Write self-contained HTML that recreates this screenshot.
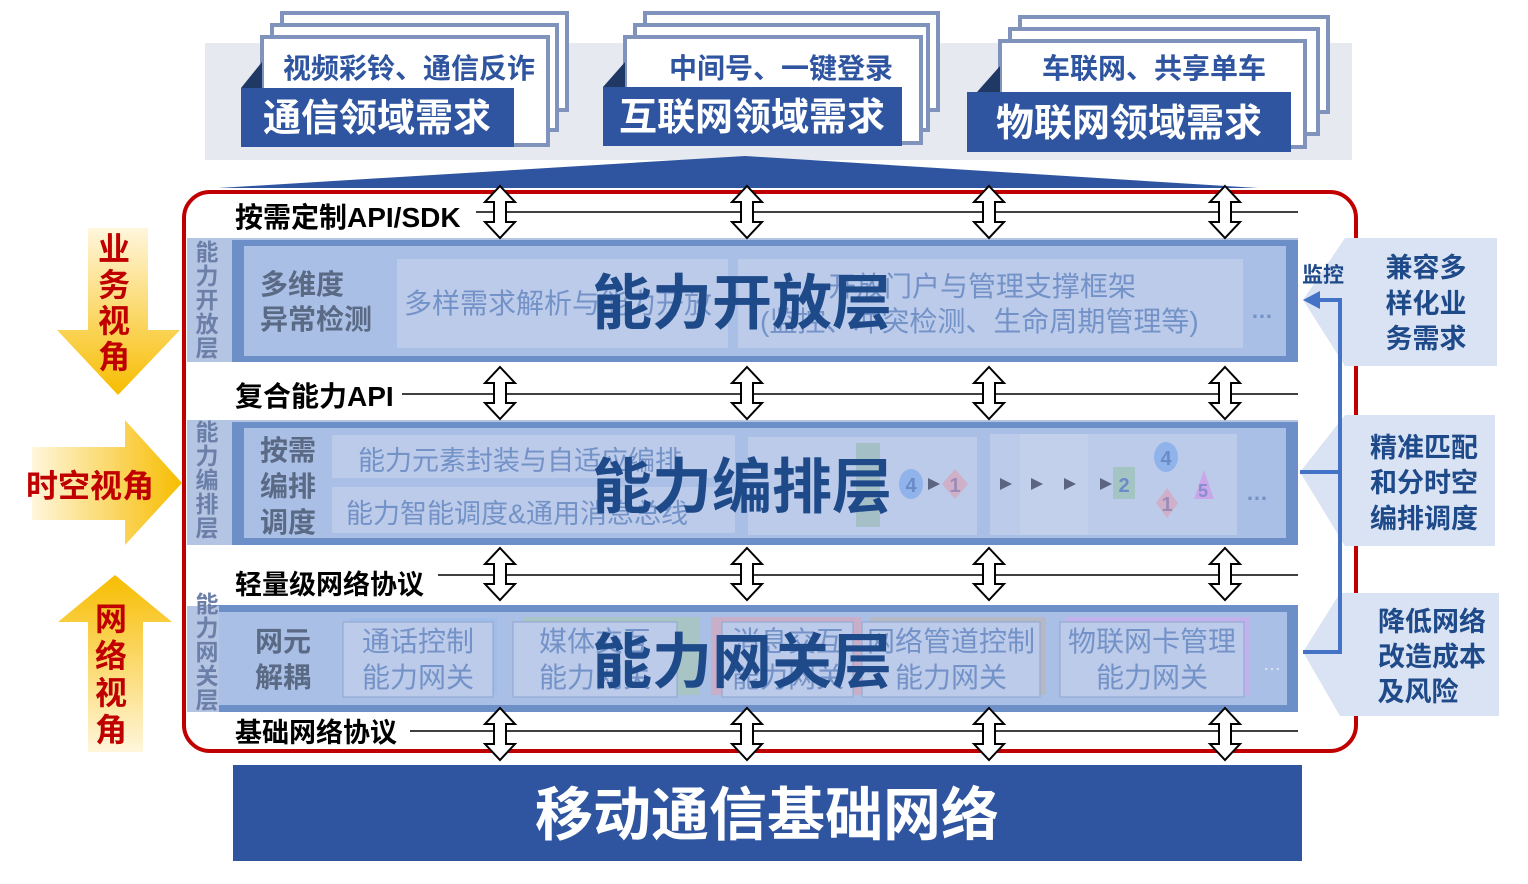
<!DOCTYPE html>
<html><head><meta charset="utf-8"><style>
html,body{margin:0;padding:0;background:#fff;}
svg{display:block;font-family:"Liberation Sans","Noto Sans CJK SC",sans-serif;}
.b{font-weight:bold;}
</style></head><body>
<svg width="1528" height="884" viewBox="0 0 1528 884" xmlns="http://www.w3.org/2000/svg">
<defs>
<linearGradient id="gd" x1="0" y1="0" x2="0" y2="1"><stop offset="0" stop-color="#fff6dc"/><stop offset="1" stop-color="#f7bd00"/></linearGradient>
<linearGradient id="gr" x1="0" y1="0" x2="1" y2="0"><stop offset="0" stop-color="#fff6dc"/><stop offset="1" stop-color="#f7bd00"/></linearGradient>
<linearGradient id="gu" x1="0" y1="1" x2="0" y2="0"><stop offset="0" stop-color="#fff6dc"/><stop offset="1" stop-color="#f7bd00"/></linearGradient>
<g id="da"><polygon points="0,0 15,16 6,16 6,36 15,36 0,52 -15,36 -6,36 -6,16 -15,16" fill="#fff" stroke="#000" stroke-width="2"/></g>
</defs>

<rect x="205" y="43" width="1147" height="117" fill="#e6e9f0"/>
<rect x="282" y="13" width="285" height="97" fill="#fff" stroke="#7f93bd" stroke-width="4"/>
<rect x="272" y="25" width="285" height="105" fill="#fff" stroke="#7f93bd" stroke-width="4"/>
<rect x="262" y="37" width="286" height="108" fill="#fff" stroke="#7f93bd" stroke-width="4"/>
<polygon points="241,88 262,62 262,88" fill="#1f3864"/>
<rect x="241" y="88" width="273" height="59" fill="#2f55a0"/>
<text x="409" y="78" font-size="28" class="b" fill="#2f55a0" text-anchor="middle">视频彩铃、通信反诈</text>
<text x="377" y="131" font-size="38" class="b" fill="#fff" text-anchor="middle">通信领域需求</text>
<rect x="645" y="13" width="293" height="97" fill="#fff" stroke="#7f93bd" stroke-width="4"/>
<rect x="635" y="25" width="293" height="105" fill="#fff" stroke="#7f93bd" stroke-width="4"/>
<rect x="625" y="37" width="296" height="106" fill="#fff" stroke="#7f93bd" stroke-width="4"/>
<polygon points="603,87 625,62 625,87" fill="#1f3864"/>
<rect x="603" y="87" width="299" height="59" fill="#2f55a0"/>
<text x="781" y="78" font-size="28" class="b" fill="#2f55a0" text-anchor="middle">中间号、一键登录</text>
<text x="752" y="130" font-size="38" class="b" fill="#fff" text-anchor="middle">互联网领域需求</text>
<rect x="1020" y="17" width="308" height="95" fill="#fff" stroke="#7f93bd" stroke-width="4"/>
<rect x="1010" y="29" width="308" height="105" fill="#fff" stroke="#7f93bd" stroke-width="4"/>
<rect x="1000" y="41" width="305" height="106" fill="#fff" stroke="#7f93bd" stroke-width="4"/>
<polygon points="977,92 1000,66 1000,92" fill="#1f3864"/>
<rect x="967" y="92" width="324" height="60" fill="#2f55a0"/>
<text x="1154" y="78" font-size="28" class="b" fill="#2f55a0" text-anchor="middle">车联网、共享单车</text>
<text x="1129" y="136" font-size="38" class="b" fill="#fff" text-anchor="middle">物联网领域需求</text>

<polygon points="218,188 745,156 1258,188" fill="#2f55a0"/>

<polygon points="88,228 148,228 148,330 180,330 118,395 57,330 88,330" fill="url(#gd)"/>
<text x="114" y="260" font-size="32" class="b" fill="#c00000" text-anchor="middle">业</text>
<text x="114" y="296" font-size="32" class="b" fill="#c00000" text-anchor="middle">务</text>
<text x="114" y="332" font-size="32" class="b" fill="#c00000" text-anchor="middle">视</text>
<text x="114" y="368" font-size="32" class="b" fill="#c00000" text-anchor="middle">角</text>
<polygon points="32,447 125,447 125,420 182,483 125,545 125,520 32,520" fill="url(#gr)"/>
<text x="90" y="497" font-size="32" class="b" fill="#c00000" text-anchor="middle">时空视角</text>
<polygon points="115,575 172,622 143,622 143,752 88,752 88,622 58,622" fill="url(#gu)"/>
<text x="111" y="630" font-size="32" class="b" fill="#c00000" text-anchor="middle">网</text>
<text x="111" y="667" font-size="32" class="b" fill="#c00000" text-anchor="middle">络</text>
<text x="111" y="704" font-size="32" class="b" fill="#c00000" text-anchor="middle">视</text>
<text x="111" y="741" font-size="32" class="b" fill="#c00000" text-anchor="middle">角</text>

<rect x="184" y="192" width="1172" height="559" rx="26" fill="none" stroke="#c00000" stroke-width="4"/>

<polygon points="1345,238 1497,238 1497,366 1345,366 1303,300" fill="#dae3f3"/>
<polygon points="1345,415 1495,415 1495,546 1345,546 1300,472" fill="#dae3f3"/>
<polygon points="1340,593 1499,593 1499,716 1340,716 1303,652" fill="#dae3f3"/>
<g font-size="27" class="b" fill="#1f4a8a" text-anchor="middle">
<text x="1426" y="277">兼容多</text><text x="1426" y="313">样化业</text><text x="1426" y="348">务需求</text>
<text x="1424" y="457">精准匹配</text><text x="1424" y="492">和分时空</text><text x="1424" y="528">编排调度</text>
<text x="1432" y="631">降低网络</text><text x="1432" y="666">改造成本</text><text x="1418" y="701">及风险</text>
</g>
<text x="1302" y="282" font-size="21" class="b" fill="#1f4a8a">监控</text>
<polyline points="1318,300 1340,300 1340,652 1303,652" fill="none" stroke="#4472c4" stroke-width="4"/>
<line x1="1300" y1="472" x2="1340" y2="472" stroke="#4472c4" stroke-width="4"/>
<polygon points="1303,300 1320,291 1320,309" fill="#4472c4"/>

<g stroke="#000" stroke-width="1.5">
<line x1="476" y1="212" x2="1298" y2="212"/>
<line x1="402" y1="394" x2="1298" y2="394"/>
<line x1="438" y1="575" x2="1298" y2="575"/>
<line x1="410" y1="731" x2="1298" y2="731"/>
</g>
<g class="b" fill="#000">
<text x="235" y="227" font-size="28">按需定制API/SDK</text>
<text x="235" y="406" font-size="28">复合能力API</text>
<text x="235" y="594" font-size="27">轻量级网络协议</text>
<text x="235" y="742" font-size="27">基础网络协议</text>
</g>

<rect x="187" y="238" width="1111" height="124" fill="#b4c5e4"/>
<rect x="232" y="240" width="1066" height="122" fill="#6d8fc7"/>
<rect x="244" y="246" width="1042" height="110" fill="#a9bfe5"/>
<rect x="397" y="259" width="331" height="89" fill="#bccbe9"/>
<rect x="738" y="259" width="505" height="89" fill="#bccbe9"/>
<g font-size="23" class="b" fill="#6b7fa8" text-anchor="middle">
<text x="207" y="260">能</text><text x="207" y="284">力</text><text x="207" y="308">开</text><text x="207" y="332">放</text><text x="207" y="356">层</text>
</g>
<text x="260" y="294" font-size="28" class="b" fill="#5a6a85">多维度</text>
<text x="260" y="329" font-size="28" class="b" fill="#5a6a85">异常检测</text>
<text x="404" y="313" font-size="28" fill="#7392c8">多样需求解析与能力开放</text>
<text x="828" y="296" font-size="28" fill="#7392c8">开放门户与管理支撑框架</text>
<text x="760" y="331" font-size="28" fill="#7392c8">(监控、冲突检测、生命周期管理等)</text>
<text x="1262" y="318" font-size="22" class="b" fill="#7392c8" text-anchor="middle">…</text>
<text x="742" y="324" font-size="60" class="b" fill="#1f4a8a" text-anchor="middle">能力开放层</text>

<rect x="187" y="420" width="1111" height="125" fill="#b4c5e4"/>
<rect x="232" y="422" width="1066" height="123" fill="#6d8fc7"/>
<rect x="244" y="428" width="1042" height="110" fill="#a9bfe5"/>
<rect x="332" y="435" width="403" height="43" fill="#bccbe9"/>
<rect x="332" y="487" width="403" height="46" fill="#bccbe9"/>
<rect x="748" y="437" width="229" height="98" fill="#bccbe9"/>
<rect x="990" y="434" width="130" height="101" fill="#bccbe9"/>
<rect x="1020" y="434" width="130" height="101" fill="#c2d0eb"/>
<rect x="1052" y="434" width="130" height="101" fill="#c2d0eb"/>
<rect x="1088" y="434" width="149" height="101" fill="#bccbe9"/>
<g font-size="23" class="b" fill="#6b7fa8" text-anchor="middle">
<text x="207" y="440">能</text><text x="207" y="464">力</text><text x="207" y="488">编</text><text x="207" y="512">排</text><text x="207" y="536">层</text>
</g>
<text x="260" y="460" font-size="28" class="b" fill="#5a6a85">按需</text>
<text x="260" y="496" font-size="28" class="b" fill="#5a6a85">编排</text>
<text x="260" y="532" font-size="28" class="b" fill="#5a6a85">调度</text>
<text x="358" y="470" font-size="27" fill="#7392c8">能力元素封装与自适应编排</text>
<text x="346" y="523" font-size="27" fill="#7392c8">能力智能调度&amp;通用消息总线</text>
<rect x="856" y="443" width="24" height="84" fill="#a4bfc6"/>
<ellipse cx="911" cy="484" rx="12" ry="15" fill="#8fb3ea"/>
<text x="911" y="492" font-size="20" class="b" fill="#6a8bc7" text-anchor="middle">4</text>
<polygon points="955,469 968,484 955,499 942,484" fill="#cfb0c8"/>
<text x="955" y="492" font-size="20" class="b" fill="#9a8bb8" text-anchor="middle">1</text>
<g fill="#5b6480">
<polygon points="1000,478 1012,484 1000,490"/><polygon points="1031,478 1043,484 1031,490"/>
<polygon points="1064,478 1076,484 1064,490"/><polygon points="1100,478 1112,484 1100,490"/>
<polygon points="928,478 940,484 928,490"/>
</g>
<rect x="1113" y="467" width="22" height="32" fill="#a4c4c4"/>
<text x="1124" y="492" font-size="20" class="b" fill="#6a8bc7" text-anchor="middle">2</text>
<ellipse cx="1166" cy="457" rx="12" ry="15" fill="#8fb3ea"/>
<text x="1166" y="465" font-size="20" class="b" fill="#6a8bc7" text-anchor="middle">4</text>
<polygon points="1167,488 1178,503 1167,518 1156,503" fill="#cfb0c8"/>
<text x="1167" y="511" font-size="20" class="b" fill="#9a8bb8" text-anchor="middle">1</text>
<polygon points="1204,470 1214,499 1194,499" fill="#c9a7e8"/>
<text x="1203" y="497" font-size="18" class="b" fill="#8a8cd0" text-anchor="middle">5</text>
<text x="1257" y="500" font-size="22" class="b" fill="#7392c8" text-anchor="middle">…</text>
<text x="742" y="508" font-size="60" class="b" fill="#1f4a8a" text-anchor="middle">能力编排层</text>

<rect x="187" y="606" width="1111" height="106" fill="#b4c5e4"/>
<rect x="207" y="605" width="1091" height="107" fill="#6d8fc7"/>
<rect x="209" y="612" width="1078" height="93" fill="#a9bfe5"/>
<rect x="187" y="606" width="32" height="106" fill="#b4c5e4"/>
<g font-size="23" class="b" fill="#6b7fa8" text-anchor="middle">
<text x="207" y="612">能</text><text x="207" y="636">力</text><text x="207" y="660">网</text><text x="207" y="684">关</text><text x="207" y="708">层</text>
</g>
<text x="255" y="651" font-size="28" class="b" fill="#5a6a85">网元</text>
<text x="255" y="687" font-size="28" class="b" fill="#5a6a85">解耦</text>
<rect x="349" y="618" width="148" height="76" fill="#9fbde8"/>
<rect x="523" y="617" width="176" height="78" fill="#a8c4c4"/>
<rect x="711" y="617" width="150" height="78" fill="#c8aec8"/>
<rect x="870" y="617" width="176" height="78" fill="#b5b9c5"/>
<rect x="1066" y="617" width="184" height="78" fill="#c2b2ec"/>
<g fill="#bccbe9" stroke="#8ea6cf" stroke-width="1">
<rect x="343" y="622" width="150" height="75"/>
<rect x="513" y="622" width="164" height="75"/>
<rect x="722" y="622" width="131" height="75"/>
<rect x="862" y="622" width="178" height="75"/>
<rect x="1060" y="622" width="184" height="75"/>
</g>
<g font-size="28" fill="#7392c8" text-anchor="middle">
<text x="418" y="651">通话控制</text><text x="418" y="687">能力网关</text>
<text x="595" y="651">媒体交互</text><text x="595" y="687">能力网关</text>
<text x="788" y="651">消息交互</text><text x="788" y="687">能力网关</text>
<text x="951" y="651">网络管道控制</text><text x="951" y="687">能力网关</text>
<text x="1152" y="651">物联网卡管理</text><text x="1152" y="687">能力网关</text>
</g>
<text x="1272" y="670" font-size="18" fill="#dfe6f4" text-anchor="middle">…</text>
<text x="742" y="683" font-size="60" class="b" fill="#1f4a8a" text-anchor="middle">能力网关层</text>

<use href="#da" x="500" y="186"/><use href="#da" x="747" y="186"/><use href="#da" x="989" y="186"/><use href="#da" x="1225" y="186"/>
<use href="#da" x="500" y="367"/><use href="#da" x="747" y="367"/><use href="#da" x="989" y="367"/><use href="#da" x="1225" y="367"/>
<use href="#da" x="500" y="548"/><use href="#da" x="747" y="548"/><use href="#da" x="989" y="548"/><use href="#da" x="1225" y="548"/>
<use href="#da" x="500" y="708"/><use href="#da" x="747" y="708"/><use href="#da" x="989" y="708"/><use href="#da" x="1225" y="708"/>

<rect x="233" y="765" width="1069" height="96" fill="#2f55a0"/>
<text x="767" y="835" font-size="58" class="b" fill="#fff" text-anchor="middle">移动通信基础网络</text>
</svg>
</body></html>
